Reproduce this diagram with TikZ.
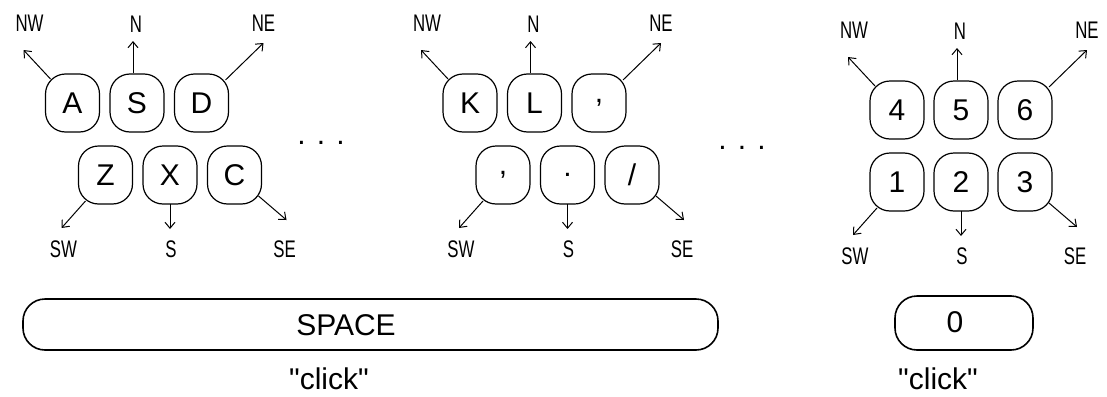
\documentclass[tikz,border=0pt]{standalone}
\usepackage{fontspec}
\setmainfont{Liberation Sans}
\newfontfamily\dirfont[FakeStretch=0.7]{Liberation Sans}
\usetikzlibrary{calc, arrows.meta}

\tikzset{
  touche/.style={draw, line width=0.6pt, rounded corners=10pt, minimum width=27pt, minimum height=29pt, inner sep=0pt, font=\fontsize{15}{15}\selectfont},
  barre/.style={draw, line width=0.8pt, rounded corners=11pt, inner sep=0pt},
  direction/.style={font=\dirfont\fontsize{12}{12}\selectfont, inner sep=0pt},
  fleche/.style={line width=0.5pt, -{Straight Barb[length=3pt, width=5pt]}},
  texte/.style={font=\fontsize{15}{15}\selectfont, inner sep=0pt}
}

\begin{document}
\begin{tikzpicture}[x=0.5pt, y=-0.5pt]
  \useasboundingbox (0,0) rectangle (1107,396);
  \foreach \gx/\gy/\sh/\pas/\g/\ka/\kb/\kc/\kd/\ke/\kf in {72.5/103/33/64.5/g/A/S/D/Z/X/C, 470/103/33/64.5/d/K/L/{,}/{,}/./{/}, 897/110/0/64/p/4/5/6/1/2/3} {
    % Rangee du haut
    \node[touche] (\g1) at (\gx,\gy) {\ka};
    \node[touche] (\g2) at (\gx+\pas,\gy) {\kb};
    \node[touche] (\g3) at (\gx+2*\pas,\gy) {\kc};
    % Rangee du bas
    \node[touche] (\g4) at (\gx+\sh,\gy+72) {\kd};
    \node[touche] (\g5) at (\gx+\sh+\pas,\gy+72) {\ke};
    \node[touche] (\g6) at (\gx+\sh+2*\pas,\gy+72) {\kf};

    % Fleches et directions
    \foreach \k/\dir/\sx/\sy/\tx/\ty/\lx/\ly in {1/NW/-22/-24/-49/-53/-43/-80, 2/N/-4/-30/-4/-62/-1/-79, 3/NE/24/-23/62/-60/62/-80, 4/SW/-20/26/-44/53/-42/74, 5/S/0/29/0/54/1/74, 6/SE/24/21/52/45/50/74} {
      \coordinate (\g\dir) at ($(\g\k)+(\tx,\ty)$);
      \draw[fleche] ($(\g\k)+(\sx,\sy)$) -- (\g\dir);
      \node[direction] (\g-\dir) at ($(\g\k)+(\lx,\ly)$) {\dir};
    }
  }

  % Points de suspension
  \node[texte] (pts1) at (321,143) {. . .};
  \node[texte] (pts2) at (742,148) {. . .};

  % Barre d'espace
  \node[barre, minimum width=347.5pt, minimum height=25.5pt] (espace) at (370.5,324.5) {};
  \node[texte] (espace-txt) at (346,325) {SPACE};
  \node[texte] (espace-clic) at (329,379) {\textquotedbl click\textquotedbl};

  % Touche 0
  \node[barre, minimum width=69pt, minimum height=27pt] (zero) at (964,323) {};
  \node[texte] (zero-txt) at (955,322) {0};
  \node[texte] (zero-clic) at (938,379) {\textquotedbl click\textquotedbl};
\end{tikzpicture}
\end{document}
